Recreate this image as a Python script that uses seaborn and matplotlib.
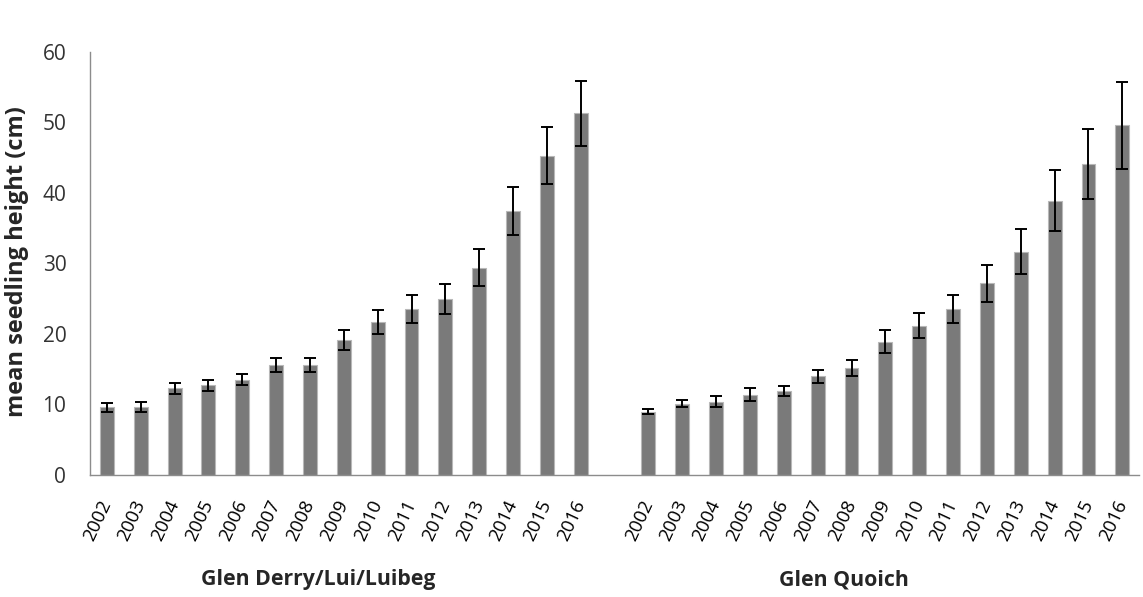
import numpy as np
import pandas as pd
import matplotlib
matplotlib.use("Agg")
import matplotlib.pyplot as plt
import seaborn as sns

years = [str(y) for y in range(2002, 2017)]

derry_mean = [9.6, 9.6, 12.3, 12.7, 13.5, 15.6, 15.6, 19.1, 21.7, 23.6, 25.0, 29.4, 37.5, 45.3, 51.3]
derry_err = [0.6, 0.7, 0.8, 0.8, 0.8, 1.0, 1.0, 1.4, 1.7, 2.0, 2.1, 2.6, 3.4, 4.0, 4.6]

quoich_mean = [9.0, 10.1, 10.4, 11.4, 11.9, 14.0, 15.2, 18.9, 21.2, 23.6, 27.2, 31.7, 38.9, 44.1, 49.6]
quoich_err = [0.4, 0.5, 0.8, 0.9, 0.7, 0.9, 1.1, 1.6, 1.8, 2.0, 2.6, 3.2, 4.3, 5.0, 6.2]

sites = ["Glen Derry/Lui/Luibeg", "Glen Quoich"]

# one slot per bar, plus an empty slot between the two sites
df = pd.DataFrame({
    "key": [f"D{y}" for y in years] + [f"Q{y}" for y in years],
    "year": years + years,
    "height": derry_mean + quoich_mean,
    "err": derry_err + quoich_err,
})
order = [f"D{y}" for y in years] + ["gap"] + [f"Q{y}" for y in years]

sns.set_style("white")
plt.rcParams["font.family"] = ["Open Sans", "DejaVu Sans"]

fig = plt.figure(figsize=(11.43, 5.97), dpi=100)
ax = fig.add_axes([0.0787, 0.2044, 0.918, 0.7085])

sns.barplot(data=df, x="key", y="height", order=order, color="#7a7a7a",
            width=0.41, edgecolor="#b8b8b8", linewidth=0.8, saturation=1,
            errorbar=None, ax=ax)

pos = [order.index(k) for k in df["key"]]
ax.errorbar(pos, df["height"], yerr=df["err"], fmt="none", ecolor="black",
            elinewidth=1.4, capsize=4.3, capthick=1.4)

ax.set_xlim(-0.5, len(order) - 0.5)
ax.set_ylim(0, 60)
ax.set_yticks(range(0, 61, 10))

ax.set_xticks(pos)
ax.set_xticklabels(df["year"], rotation=65, ha="right", va="center",
                   rotation_mode="anchor", fontsize=13.5, color="black")
ax.set_xticks(np.arange(-0.5, len(order), 1), minor=True)
ax.tick_params(axis="x", which="major", length=0, pad=19)
ax.tick_params(axis="x", which="minor", length=6, color="#8c8c8c", width=1)
ax.tick_params(axis="y", length=6, color="#8c8c8c", width=1, labelsize=15,
               labelcolor="#333333", pad=11)

for s in ["top", "right"]:
    ax.spines[s].set_visible(False)
for s in ["left", "bottom"]:
    ax.spines[s].set_color("#8c8c8c")
    ax.spines[s].set_linewidth(1)

ax.set_xlabel("")
ax.set_ylabel("mean seedling height (cm)", fontsize=17, fontweight="bold")
ax.yaxis.set_label_coords(-0.058, 0.505)

fig.text(318 / 1143, 1 - 580 / 597, sites[0], ha="center", va="center",
         fontsize=15.3, fontweight="bold")
fig.text(844 / 1143, 1 - 580 / 597, sites[1], ha="center", va="center",
         fontsize=15.3, fontweight="bold")

fig.savefig("out.png", dpi=100)
